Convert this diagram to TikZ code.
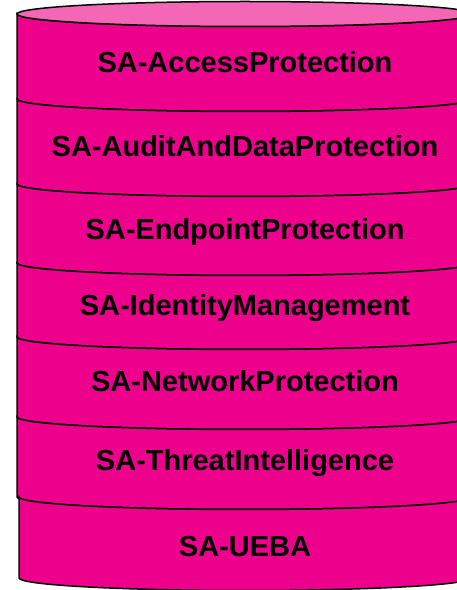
\documentclass[tikz,border=0pt]{standalone}
\usepackage{fontspec}
\setmainfont{Liberation Sans}
\usetikzlibrary{positioning}
\definecolor{magbody}{RGB}{236,0,140}
\definecolor{magtop}{RGB}{244,102,182}

\begin{document}
\begin{tikzpicture}[x=1pt,y=1pt,
      slice/.style={draw=black,line width=1.5pt,fill=magbody},
      lid/.style={draw=black,line width=1.5pt,fill=magtop},
      lbl/.style={font=\fontsize{29}{34}\selectfont\bfseries,anchor=base}]
    \useasboundingbox (0,0) rectangle (457,590);
    \clip (0,0) rectangle (457,590);
    % one slice of the stack per module, top to bottom
    \foreach \ya/\yb/\lx/\nm/\txt/\yt in {
        576/491/17/access/SA-AccessProtection/517.5,
        491/406/17/audit/SA-AuditAndDataProtection/433,
        406/327/17/endpoint/SA-EndpointProtection/350,
        327/253/17/identity/SA-IdentityManagement/274,
        253/173/17/network/SA-NetworkProtection/198,
        173/93/17/threat/SA-ThreatIntelligence/119,
        93/12/19/ueba/SA-UEBA/34}
    {
      \pgfmathsetmacro{\rx}{245-\lx}
      \draw[slice] (\lx,\ya) -- (\lx,\yb)
        arc[start angle=180, end angle=360, x radius=\rx, y radius=12.5]
        -- (245+\rx,\ya)
        arc[start angle=360, end angle=180, x radius=\rx, y radius=12.5] -- cycle;
      \node[lbl] (\nm) at (245,\yt) {\txt};
    }
    \draw[lid] (245,576) ellipse[x radius=228, y radius=12.5];
  \end{tikzpicture}
\end{document}
